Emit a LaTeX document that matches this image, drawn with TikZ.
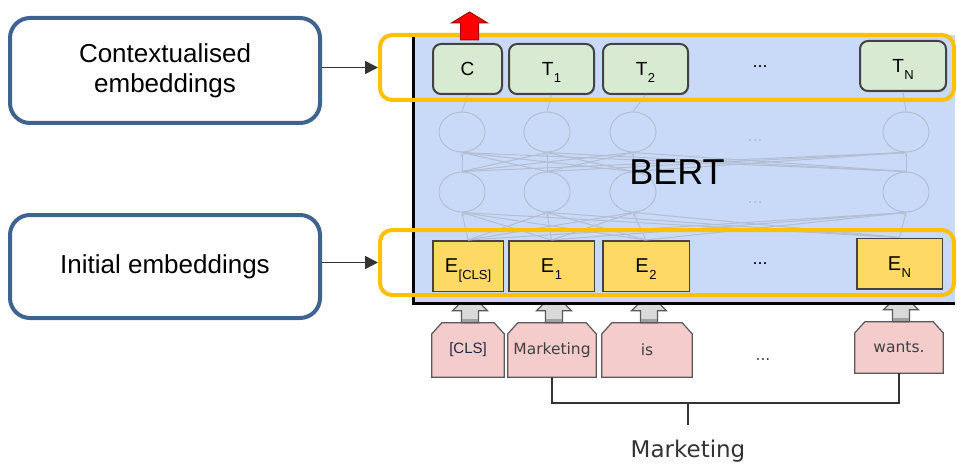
\documentclass[tikz,border=0pt]{standalone}
\usepackage{fontspec}
\setmainfont{Liberation Sans}
\newfontfamily\verdfont{DejaVu Sans}
\usetikzlibrary{arrows.meta,shapes.geometric,shadows,backgrounds}

\definecolor{bertblue}{HTML}{C9DAF8}
\definecolor{labblue}{HTML}{3F6391}
\definecolor{groupgold}{HTML}{FFC000}
\definecolor{outgreen}{HTML}{D9EAD3}
\definecolor{embgold}{HTML}{FFD966}
\definecolor{tokedge}{HTML}{434343}
\definecolor{wordpink}{HTML}{F4CCCC}
\definecolor{wordline}{HTML}{595959}
\definecolor{wordtext}{HTML}{404040}
\definecolor{clstext}{HTML}{1F2A44}
\definecolor{liftgray}{HTML}{D9D9D9}
\definecolor{bandgray}{HTML}{A0A0A0}
\definecolor{faint}{HTML}{B3BED2}
\definecolor{darkline}{HTML}{333333}
\definecolor{alertred}{HTML}{FF0000}
\definecolor{arrowred}{HTML}{A00000}

% lowered subscript that does not change the box height
\newcommand\lowtag[1]{\kern0.5pt\raisebox{-0.35em}[0pt][0pt]{\fontsize{13}{13}\selectfont #1}}

\begin{document}
\begin{tikzpicture}[x=1pt,y=-1pt,
  lab/.style={draw=labblue, line width=4pt, rounded corners=20pt, fill=white,
    minimum width=310pt, inner sep=0pt, align=center,
    font=\fontsize{26}{30}\selectfont},
  grpbox/.style={draw=groupgold, line width=4pt, rounded corners=12pt,
    minimum width=574pt, minimum height=65pt, inner sep=0pt},
  outtok/.style={draw=tokedge, line width=2pt, fill=outgreen, rounded corners=8pt,
    minimum height=50pt, inner sep=0pt, font=\fontsize{19}{22}\selectfont,
    drop shadow={shadow xshift=1pt, shadow yshift=-1.5pt, opacity=0.3}},
  intok/.style={draw=tokedge, line width=1.5pt, fill=embgold,
    minimum height=50.5pt, inner sep=0pt, font=\fontsize{20}{22}\selectfont},
  wordtok/.style={minimum height=54pt, inner sep=0pt,
    font=\verdfont\fontsize{15.5}{18}\selectfont, text=wordtext},
  wordedge/.style={draw=wordline, line width=1.2pt, fill=wordpink},
  liftarrow/.style={draw=wordline, line width=1.2pt, fill=liftgray},
  faintline/.style={draw=faint, line width=1pt},
  hunit/.style={ellipse, faintline, minimum width=46pt, minimum height=40pt, inner sep=0pt},
  ptr/.style={draw=darkline, line width=1.5pt, -{Triangle[length=13pt,width=13pt]}},
  bracket/.style={draw=darkline, line width=1.5pt},
  dotsfont/.style={font=\fontsize{18}{18}\selectfont}
]
\useasboundingbox (0,0) rectangle (957,465);

% input word pieces
\node[wordtok, minimum width=72pt, font=\fontsize{15}{18}\selectfont, text=clstext] (wCLS) at (468,350) {[CLS]};
\node[wordtok, minimum width=88pt] (wMk) at (552,350) {Marketing};
\node[wordtok, minimum width=90pt] (wIs) at (647,350) {is};
\node[wordtok, minimum width=88pt, minimum height=51pt] (wWants) at (899,347.5) {wants.};
\node[font=\verdfont\fontsize{15.5}{18}\selectfont, text=wordtext] (wDots) at (763,360) {...};

\begin{scope}[on background layer]
  \foreach \w in {wCLS,wMk,wIs,wWants}
    \draw[wordedge] (\w.south west) -- ([yshift=-11pt]\w.north west)
      -- ([xshift=10pt]\w.north west) -- ([xshift=-10pt]\w.north east)
      -- ([yshift=-11pt]\w.north east) -- (\w.south east) -- cycle;
\end{scope}

% lifting arrows from the words into the model
\foreach \w in {wCLS,wMk,wIs,wWants} {
  \draw[liftarrow] ([xshift=2pt]\w.north) ++(-8.5,0) -- ++(0,-12) -- ++(-9,0)
    -- ++(17.5,-18) -- ++(17.5,18) -- ++(-9,0) -- ++(0,12) -- cycle;
  \draw[draw=bandgray, line width=3pt] ([xshift=-5.9pt, yshift=2.6pt]\w.north)
    -- ([xshift=9.9pt, yshift=2.6pt]\w.north);
}

% model body
\node[fill=bertblue, minimum width=542pt, minimum height=268pt, inner sep=0pt, outer sep=0pt] (bert) at (684,169) {};
\draw[line width=3pt, black] (bert.north west) -- (bert.south west) -- (bert.south east);

% hidden units
\foreach \k/\cx in {0/462,1/547,2/633,N/906} {
  \node[hunit] (u\k) at (\cx,132) {};
  \node[hunit] (l\k) at (\cx,192) {};
}

% output tokens
\node[outtok, minimum width=69pt] (t0) at (467.5,69) {C};
\node[outtok, minimum width=85pt] (t1) at (551.5,69) {T\lowtag{1}};
\node[outtok, minimum width=85pt] (t2) at (645.5,69) {T\lowtag{2}};
\node[outtok, minimum width=86pt] (tN) at (903,66) {T\lowtag{N}};
\node[dotsfont] (tDots) at (760,67) {...};

% input embeddings
\node[intok, minimum width=70.5pt] (e0) at (468,266) {E\lowtag{[CLS]}};
\node[intok, minimum width=85.5pt] (e1) at (551.5,266) {E\lowtag{1}};
\node[intok, minimum width=86.5pt] (e2) at (646,266) {E\lowtag{2}};
\node[intok, minimum width=85.5pt] (eN) at (899.5,263.5) {E\lowtag{N}};
\node[dotsfont] (eDots) at (760,264) {...};

% faint wiring inside the model
\foreach \a in {0,1,2,N} {
  \draw[faintline] (u\a.north) -- (t\a.south);
  \foreach \b in {0,1,2,N} {
    \draw[faintline, -{Stealth[length=4pt,width=3pt]}] (l\a.north) -- (u\b.south);
    \draw[faintline, -{Stealth[length=4pt,width=3pt]}] (e\a.north) -- (l\b.south);
  }
}
\node[dotsfont, text=faint] (uDots) at (755,141) {...};
\node[dotsfont, text=faint] (lDots) at (755,203) {...};

\node[font=\fontsize{36}{36}\selectfont] (bertlbl) at (677,172.5) {BERT};

% highlighted groups
\node[grpbox] (topgrp) at (667,67.5) {};
\node[grpbox] (botgrp) at (667,262.5) {};

% output marker
\draw[draw=arrowred, fill=alertred, line width=1pt] ([xshift=2pt]t0.north) ++(-9,-3)
  -- ++(0,-17) -- ++(-9,0) -- ++(18,-11) -- ++(18,11) -- ++(-9,0) -- ++(0,17) -- cycle;

% side labels
\node[lab, minimum height=105pt] (ctx) at (165,70.5) {Contextualised\\embeddings};
\node[lab, minimum height=103pt] (init) at (165,266.5) {Initial embeddings};
\draw[ptr] (ctx.east |- topgrp.west) -- (topgrp.west);
\draw[ptr] (init.east |- botgrp.west) -- (botgrp.west);

% sentence bracket
\node[anchor=base, inner sep=0pt, font=\verdfont\fontsize{23}{26}\selectfont, text=darkline] (mk) at (688,457) {Marketing};
\coordinate (bmid) at (688,403);
\draw[bracket] (wMk.south) -- (wMk.south |- bmid) -| (wWants.south);
\draw[bracket, shorten >=14.5pt] (bmid) -- (bmid |- mk.north);
\end{tikzpicture}
\end{document}
